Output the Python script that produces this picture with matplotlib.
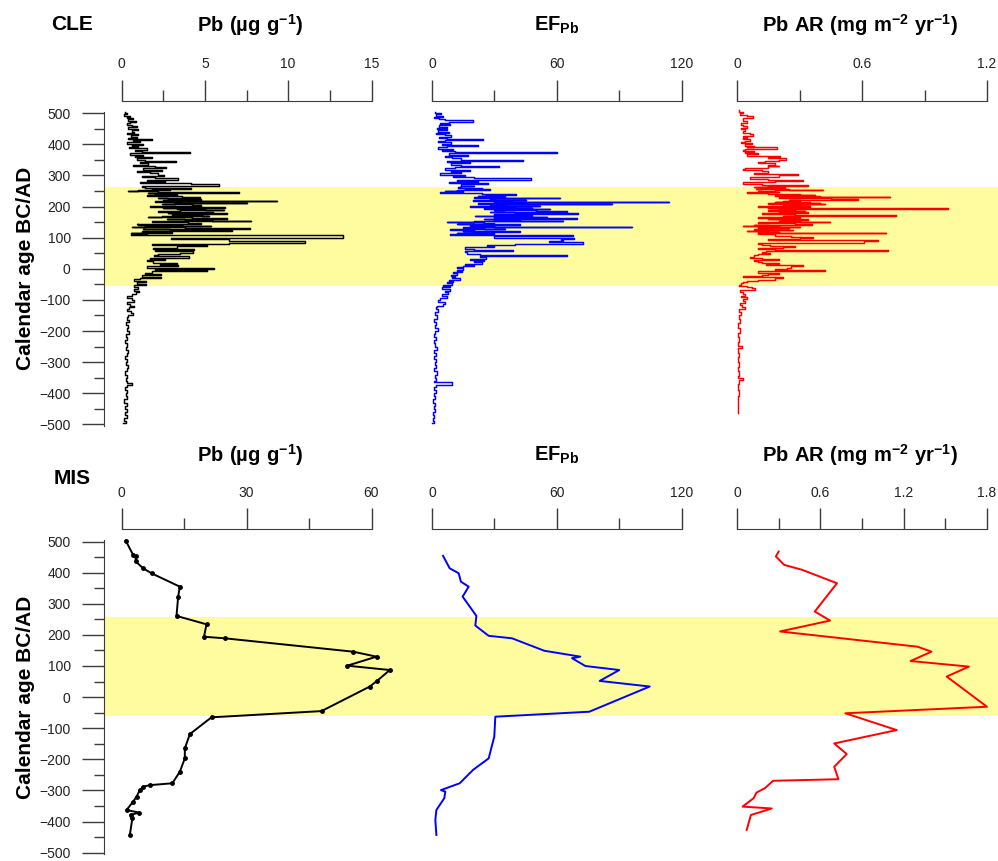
import matplotlib
matplotlib.use('Agg')
import matplotlib.pyplot as plt
from matplotlib.ticker import MultipleLocator

plt.rcParams['font.family'] = ['Liberation Sans', 'DejaVu Sans']
plt.rcParams['mathtext.fontset'] = 'custom'
plt.rcParams['mathtext.rm'] = 'Liberation Sans'
plt.rcParams['mathtext.bf'] = 'Liberation Sans:bold'

# ---- data: CLE (high resolution, step profiles) ----
CLE_PB_AGE = [505, 500, 496, 492, 488, 484, 480, 476, 472, 468, 463, 459, 455, 450, 446, 441, 437, 433,
              429, 425, 421, 418, 414, 410, 406, 402, 398, 394, 390, 387, 383, 379, 375, 371, 367, 363,
              359, 355, 351, 347, 343, 339, 335, 331, 327, 323, 319, 315, 311, 307, 303, 299, 295, 291,
              287, 283, 279, 275, 271,
              267, 265, 263, 261, 259, 257, 255, 253, 251, 249, 247, 245, 243, 241, 239, 237, 235, 233,
              231, 229, 227, 225, 223, 221, 219, 217, 215, 213, 212, 210, 209, 207, 205, 203, 201, 199,
              198, 196, 194, 192, 190, 188, 186, 184, 182, 180, 179, 177, 175, 173, 171, 169, 167, 165,
              163, 161, 159, 157, 155, 153, 151, 149, 147, 145, 143, 141, 139, 137, 135, 133, 131, 129,
              127, 125, 124, 122, 120, 118, 116, 114, 112,
              109, 100, 97, 88, 82, 80, 76, 72, 68,
              64, 60, 56, 52, 48, 44, 40, 36, 32, 28, 24, 20, 16, 12, 8, 4, 0, -4, -8, -12, -16, -20,
              -25, -30, -34, -38, -44, -48, -52, -57, -60, -65, -70, -76, -82, -88, -94, -100, -106,
              -112, -118, -124, -130, -136, -142, -148, -156, -164, -172, -180, -190, -200, -210, -220,
              -230, -240, -250, -260, -270, -280, -290, -300, -310, -320, -330, -340, -350, -360, -366,
              -372, -380, -390, -400, -410, -420, -430, -440, -450, -460, -470, -480, -490, -497]
CLE_PB = [0.2, 0.35, 0.15, 0.5, 0.3, 0.7, 0.4, 0.85, 0.5, 0.3, 0.65, 0.9, 0.4, 1.0, 0.6, 0.75, 0.3, 1.0,
          0.55, 0.9, 0.4, 1.85, 0.7, 1.1, 0.35, 1.3, 0.6, 1.0, 0.45, 1.55, 0.8, 1.2, 4.1, 0.5, 1.3, 0.8,
          1.85, 0.9, 1.4, 3.25, 1.1, 1.6, 0.7, 2.0, 2.65, 1.3, 2.45, 0.9, 1.7, 2.2, 2.55, 1.2, 2.0, 3.4,
          1.5, 2.6, 1.1, 4.15, 5.85,
          2.3, 1.2, 1.4, 2.6, 4.15, 1.8, 2.9, 1.0, 0.4, 2.2, 7.05, 1.6, 3.0, 2.0, 3.35, 1.5, 1.9, 3.6,
          4.7, 2.2, 2.8, 3.9, 4.75, 2.5, 9.35, 2.0, 3.5, 5.0, 7.5, 3.2, 2.4, 4.2, 4.75, 2.6, 1.7, 3.8,
          6.2, 2.5, 3.3, 5.0, 6.15, 3.5, 2.2, 4.5, 5.5, 2.8, 6.3, 4.0, 3.0, 4.8, 5.25, 2.4, 1.6, 4.2,
          6.3, 2.7, 3.8, 5.4, 7.8, 1.8, 2.5, 4.0, 4.75, 0.9, 1.0, 3.6, 5.35, 1.4, 0.6, 3.8, 7.7, 1.3,
          2.9, 4.8, 6.65, 1.8, 1.2, 3.0, 0.55, 1.5, 0.55,
          13.3, 2.95, 6.45, 11.0, 6.45, 1.85, 5.1, 3.3, 1.9,
          4.35, 2.0, 4.3, 3.5, 2.2, 1.95, 4.05, 1.7, 2.6, 1.5, 1.9, 3.35, 2.3, 3.4, 1.5, 5.55,
          2.0, 5.15, 1.8, 1.4, 2.35, 1.2, 2.35, 1.1, 0.75, 1.45, 0.9, 1.45, 0.75, 0.95, 1.0, 0.75, 1.05,
          0.85, 0.6, 0.35, 0.6, 0.75, 0.35, 0.5, 0.75, 0.45, 0.3, 0.55, 0.7, 0.4, 0.3, 0.45, 0.25, 0.4,
          0.3, 0.45, 0.25, 0.35, 0.2, 0.35, 0.25, 0.4, 0.3, 0.2, 0.35, 0.25, 0.4, 0.3, 0.2, 0.35, 0.25,
          0.3, 0.65, 0.3, 0.2, 0.35, 0.25, 0.3, 0.15, 0.3, 0.2, 0.3, 0.2, 0.3, 0.15, 0.25, 0.1]

CLE_EF_AGE = [505, 500, 496, 492, 488, 484, 480, 477, 473, 469, 465, 461, 457, 453, 449, 445, 441, 437,
              433, 429, 425, 421, 418, 414, 410, 406, 402, 398, 394, 390, 386, 382, 378, 375, 371, 367,
              363, 359, 355, 351, 347, 343, 339, 335, 331, 327, 323, 319, 315, 311, 307, 303, 299, 295,
              291, 287, 283, 279, 275, 271,
              267, 265, 263, 261, 259, 257, 255, 253, 251, 249, 247, 245, 243, 241, 239, 237, 235, 233,
              231, 230, 228, 226, 224, 222, 220, 218, 216, 214, 213, 211, 209, 207, 205, 203, 201, 199,
              197, 195, 193, 191, 189, 188, 186, 184, 182, 180, 178, 176, 174, 172, 171, 169, 167, 165,
              163, 161, 159, 157, 155, 153, 151, 149, 147, 145, 143, 141, 139, 137, 135, 133, 131, 129,
              127, 125, 123, 121, 120, 118, 116, 114, 112,
              108, 104, 100, 96, 93, 89, 85, 81,
              77, 73, 69, 65, 61, 57, 53, 49, 45, 41, 37, 33, 29, 25, 21, 17, 13, 9, 5, 1, -3, -7, -11,
              -15, -19, -23, -27, -31, -35, -39, -43, -47, -51, -55, -59, -64, -70, -76, -82, -88, -94,
              -100, -106, -112, -118, -124, -130, -140, -150, -160, -170, -180, -190, -200, -210, -220,
              -230, -240, -250, -260, -270, -280, -290, -300, -310, -320, -330, -340, -350, -360, -364,
              -372, -380, -390, -400, -410, -420, -430, -440, -450, -460, -470, -480, -490, -497]
CLE_EF = [1.5, 4.5, 2.0, 5.5, 1.0, 3.5, 6.0, 19.5, 8.0, 4.0, 8.6, 3.5, 7.0, 2.5, 7.0, 3.0, 8.0, 2.0,
          6.0, 9.0, 3.5, 7.0, 24.3, 6.0, 3.0, 9.0, 5.0, 22.2, 7.0, 3.0, 10.0, 5.0, 11.0, 59.8, 8.0, 17.4,
          6.0, 9.4, 14.0, 43.5, 7.0, 18.2, 9.0, 14.0, 32.0, 11.0, 6.0, 18.2, 9.0, 14.0, 4.0, 15.8, 10.0,
          20.0, 47.5, 12.0, 22.2, 8.0, 27.0, 14.0,
          20.0, 14.0, 12.6, 18.0, 24.0, 16.0, 27.8, 12.0, 6.0, 15.0, 3.8, 18.0, 24.0, 30.0, 40.3, 26.0,
          22.0, 35.0, 32.0, 20.0, 61.4, 28.0, 30.0, 45.0, 19.8, 38.0, 114.0, 30.0, 45.0, 22.0, 86.6,
          35.0, 28.0, 52.0, 18.2, 40.0, 48.0, 25.0, 56.6, 35.0, 30.0, 50.0, 64.6, 28.0, 40.0, 58.0,
          70.2, 30.0, 35.0, 48.0, 20.6, 40.0, 55.0, 30.0, 69.4, 25.0, 42.0, 30.0, 63.0, 20.0, 7.0,
          25.0, 30.0, 12.0, 42.2, 18.0, 20.0, 30.0, 96.2, 15.0, 25.0, 35.0, 8.6, 20.0, 35.0, 15.0,
          42.2, 20.0, 12.0, 30.0, 8.6,
          67.8, 30.0, 68.2, 62.0, 63.0, 56.0, 72.6, 40.0,
          26.2, 30.0, 15.8, 20.0, 39.0, 15.8, 17.0,
          23.0, 65.0, 23.0, 26.0, 18.2, 25.0, 20.0, 23.8, 16.0, 20.0, 15.0, 12.0, 15.0, 11.8, 14.2, 10.0,
          12.0, 9.0, 11.0, 9.4, 13.4, 8.0, 10.0, 7.0, 9.5, 5.5, 8.6, 4.6, 8.6, 6.0, 7.5, 5.0, 7.0, 4.0,
          3.0, 6.2, 5.5, 2.5, 2.0, 3.0, 1.5, 2.5, 1.0, 2.0, 1.5, 3.0, 1.5, 1.0, 2.0, 0.8, 1.5, 2.5, 1.0,
          1.8, 0.8, 2.0, 1.2, 2.0, 1.0, 2.2, 1.2, 1.8, 1.0, 9.4, 2.0, 1.0, 1.8, 0.8, 1.5, 0.6, 1.5, 0.8,
          1.2, 0.5, 1.0, 0.4, 0.8, 0.2]

CLE_AR_AGE = [512, 505, 500, 495, 490, 485, 479, 474, 468, 463, 458, 453, 448, 443, 438, 433, 428, 424,
              420, 416, 412, 408, 404, 400, 396, 392, 390, 386, 382, 378, 374, 372, 368, 364, 361, 358,
              355, 351, 347, 343, 339, 335, 331, 329, 325, 321, 317, 313, 309, 304, 300, 295, 290, 286,
              282, 278, 274, 270,
              266, 264, 262, 260, 258, 256, 254, 252, 250, 248, 246, 244, 242, 240, 238, 236, 235, 233,
              232, 230, 228, 226, 224, 222, 220, 218, 216, 214, 212, 210, 209, 207, 205, 203, 202, 200,
              198, 196, 195, 193, 191, 189, 187, 185, 184, 182, 181, 179, 177, 175, 173, 171, 169, 167,
              166, 164, 162, 160, 159, 157, 155, 153, 152, 150, 148, 146, 144, 142, 141, 139, 137, 135,
              133, 131, 130, 128, 126, 124, 122, 120, 119, 117, 116, 114, 112,
              109, 106, 103, 99, 96, 93, 88, 84,
              80, 77, 74, 70, 67, 64, 61, 57, 53, 50, 46, 43, 39, 35, 32, 28, 25, 21, 18, 15, 12, 8, 4,
              0, -4, -8, -12, -16, -20, -23, -27, -31, -35, -39, -43, -47, -51, -55, -58, -63, -68, -74,
              -80, -86, -92, -98, -104, -110, -116, -122, -130, -140, -150, -160, -175, -190, -205, -220,
              -235, -248, -255, -270, -285, -300, -315, -330, -345, -352, -358, -370, -390, -410, -430,
              -450, -465]
CLE_AR = [0.01, 0.03, 0.015, 0.05, 0.078, 0.03, 0.03, 0.05, 0.02, 0.03, 0.05, 0.02, 0.04, 0.03, 0.06,
          0.078, 0.03, 0.05, 0.03, 0.06, 0.04, 0.02, 0.07, 0.04, 0.08, 0.05, 0.19, 0.04, 0.03, 0.08, 0.04,
          0.10, 0.05, 0.12, 0.206, 0.15, 0.237, 0.2, 0.134, 0.1, 0.18, 0.15, 0.2, 0.15, 0.04, 0.03, 0.12,
          0.15, 0.08, 0.293, 0.2, 0.06, 0.15, 0.317, 0.18, 0.03, 0.12, 0.34,
          0.15, 0.08, 0.23, 0.12, 0.09, 0.25, 0.413, 0.18, 0.1, 0.2, 0.05, 0.15, 0.22, 0.3, 0.373, 0.18,
          0.25, 0.4, 0.732, 0.2, 0.35, 0.45, 0.58, 0.25, 0.3, 0.22, 0.18, 0.35, 0.4, 0.15, 0.421, 0.3,
          0.22, 0.35, 0.1, 0.28, 0.35, 0.15, 1.014, 0.2, 0.28, 0.15, 0.325, 0.25, 0.2, 0.3, 0.34, 0.12,
          0.15, 0.28, 0.764, 0.22, 0.3, 0.18, 0.1, 0.3, 0.25, 0.15, 0.34, 0.22, 0.2, 0.3, 0.445, 0.1,
          0.12, 0.28, 0.36, 0.08, 0.15, 0.03, 0.2, 0.3, 0.1, 0.25, 0.17, 0.08, 0.27, 0.12, 0.05, 0.15,
          0.2, 0.1, 0.716, 0.1, 0.18,
          0.18, 0.26, 0.365, 0.3, 0.15, 0.676, 0.61, 0.1,
          0.12, 0.16, 0.277, 0.22, 0.1, 0.18, 0.724, 0.14, 0.12, 0.16, 0.1, 0.08, 0.06, 0.12, 0.2, 0.08,
          0.1, 0.12, 0.2, 0.14, 0.317, 0.26, 0.24, 0.18, 0.421, 0.1, 0.2, 0.15, 0.12, 0.03, 0.22, 0.18,
          0.1, 0.05, 0.03, 0.02, 0.01, 0.05, 0.07, 0.086, 0.015, 0.03, 0.04, 0.02, 0.05, 0.03, 0.04,
          0.015, 0.025, 0.04, 0.01, 0.02, 0.008, 0.015, 0.005, 0.012, 0.006, 0.01, 0.004, 0.022, 0.005,
          0.008, 0.003, 0.01, 0.004, 0.008, 0.005, 0.03, 0.01, 0.005, 0.008, 0.003, 0.006, 0.003, 0.004]

# ---- data: MIS (low resolution) ----
MIS_PB_AGE = [503, 457, 452, 436, 414, 398, 355, 323, 261, 234, 194, 189, 146, 130, 101, 87, 53, 34,
              -45, -65, -119, -165, -197, -240, -277, -283, -288, -299, -320, -336, -363, -371, -379,
              -390, -443]
MIS_PB = [1.0, 2.8, 3.4, 3.4, 5.2, 7.2, 14.0, 13.6, 13.2, 20.4, 19.8, 24.8, 55.6, 61.2, 54.2, 64.4,
          61.4, 59.6, 48.0, 21.6, 16.4, 15.2, 15.2, 14.0, 12.2, 6.8, 5.2, 4.4, 3.6, 2.8, 1.2, 4.2, 2.2,
          2.6, 2.0]

MIS_EF_AGE = [454, 414, 398, 371, 355, 323, 261, 230, 197, 189, 149, 130, 125, 100, 87, 52, 34, -47,
              -63, -127, -197, -234, -277, -288, -299, -304, -325, -363, -395, -443]
MIS_EF = [5.3, 8.5, 12.8, 13.9, 17.6, 14.7, 21.3, 20.8, 27.2, 38.4, 53.9, 71.2, 67.2, 73.6, 89.9,
          80.5, 104.5, 75.5, 30.4, 29.9, 27.2, 19.7, 13.3, 8.8, 4.3, 6.4, 5.9, 2.1, 1.6, 2.1]

MIS_AR_AGE = [468, 452, 425, 409, 366, 275, 246, 211, 162, 146, 116, 98, 66, -31, -52, -106, -149,
              -183, -224, -264, -269, -277, -293, -307, -325, -352, -358, -379, -427]
MIS_AR = [0.30, 0.28, 0.34, 0.47, 0.72, 0.56, 0.67, 0.31, 1.30, 1.40, 1.25, 1.67, 1.51, 1.80, 0.78,
          1.15, 0.70, 0.79, 0.70, 0.73, 0.26, 0.24, 0.20, 0.14, 0.12, 0.04, 0.25, 0.10, 0.07]

BAND_CLE = (-55, 263)
BAND_MIS = (-60, 259)
YTICKS = [-500, -400, -300, -200, -100, 0, 100, 200, 300, 400, 500]

TITLES = [r'$\mathbf{Pb\ (µg\ g^{-1})}$', r'$\mathbf{EF_{Pb}}$', r'$\mathbf{Pb\ AR\ (mg\ m^{-2}\ yr^{-1})}$']
XMAX_CLE = [15, 120, 1.2]
XMAX_MIS = [60, 120, 1.8]
XSTEP_CLE = [5, 60, 0.6]
XSTEP_MIS = [30, 60, 0.6]
COLORS = ['black', '#0000ff', '#ff0000']

W, H = 998, 861
AX_COL = '#3c3c3c'
fig = plt.figure(figsize=(W / 100, H / 100), dpi=100)


def frame(x0, x1, ytop, ybot):
    return [x0 / W, 1 - ybot / H, (x1 - x0) / W, (ybot - ytop) / H]


def fmt(v, pos):
    return '%g' % v


rows = [
    dict(ytop=111.7, ybot=425.9, band=BAND_CLE, xmax=XMAX_CLE, xstep=XSTEP_CLE, site='CLE',
         series=[(CLE_PB, CLE_PB_AGE), (CLE_EF, CLE_EF_AGE), (CLE_AR, CLE_AR_AGE)],
         title_y=25, site_y=25, lw=1.05, step=True),
    dict(ytop=540.0, ybot=854.2, band=BAND_MIS, xmax=XMAX_MIS, xstep=XSTEP_MIS, site='MIS',
         series=[(MIS_PB, MIS_PB_AGE), (MIS_EF, MIS_EF_AGE), (MIS_AR, MIS_AR_AGE)],
         title_y=455, site_y=478, lw=1.4, step=False),
]
lefts = [121.5, 432, 737]

for r in rows:
    bg = fig.add_axes(frame(104, 998, r['ytop'], r['ybot']), zorder=0)
    bg.set_ylim(-505, 505)
    bg.set_xlim(0, 1)
    bg.axhspan(r['band'][0], r['band'][1], color='#fffca0', lw=0)
    for s in ['top', 'right', 'bottom']:
        bg.spines[s].set_visible(False)
    bg.spines['left'].set_color(AX_COL)
    bg.set_xticks([])
    bg.set_yticks(YTICKS)
    bg.yaxis.set_minor_locator(MultipleLocator(50))
    bg.tick_params(axis='y', which='major', direction='out', length=16, width=1, color=AX_COL,
                   labelsize=10, pad=8, labelcolor='#222222')
    bg.tick_params(axis='y', which='minor', direction='out', length=7, width=1, color=AX_COL)
    fig.text(26 / W, 1 - (r['ytop'] + r['ybot']) / 2 / H, 'Calendar age BC/AD', rotation=90,
             ha='center', va='center', fontsize=15, fontweight='bold')
    fig.text(72 / W, 1 - r['site_y'] / H, r['site'], ha='center', va='center', fontsize=15,
             fontweight='bold')

    for i, (vals, ages) in enumerate(r['series']):
        ax = fig.add_axes(frame(lefts[i], lefts[i] + 250, r['ytop'], r['ybot']), zorder=2)
        ax.patch.set_visible(False)
        ax.set_xlim(0, r['xmax'][i])
        ax.set_ylim(-505, 505)
        for s in ['left', 'right', 'bottom']:
            ax.spines[s].set_visible(False)
        ax.spines['top'].set_position(('outward', 8))
        ax.spines['top'].set_color(AX_COL)
        ax.set_yticks([])
        ax.xaxis.tick_top()
        ax.xaxis.set_major_locator(MultipleLocator(r['xstep'][i]))
        ax.xaxis.set_minor_locator(MultipleLocator(r['xstep'][i] / 2))
        ax.xaxis.set_major_formatter(plt.FuncFormatter(fmt))
        ax.tick_params(axis='x', which='major', direction='out', length=15, width=1, color=AX_COL,
                       labelsize=10, pad=6, labelcolor='#222222')
        ax.tick_params(axis='x', which='minor', direction='out', length=8, width=1, color=AX_COL)
        if r['step']:
            ax.plot(vals, ages, color=COLORS[i], lw=r['lw'], drawstyle='steps-pre', clip_on=False)
        else:
            mk = dict(marker='o', ms=2.5) if i == 0 else {}
            ax.plot(vals, ages, color=COLORS[i], lw=r['lw'], clip_on=False, **mk)
        tx = [250, 557, 860][i]
        fig.text(tx / W, 1 - r['title_y'] / H, TITLES[i], ha='center', va='center', fontsize=14.5)

fig.savefig('out.png', dpi=100)
